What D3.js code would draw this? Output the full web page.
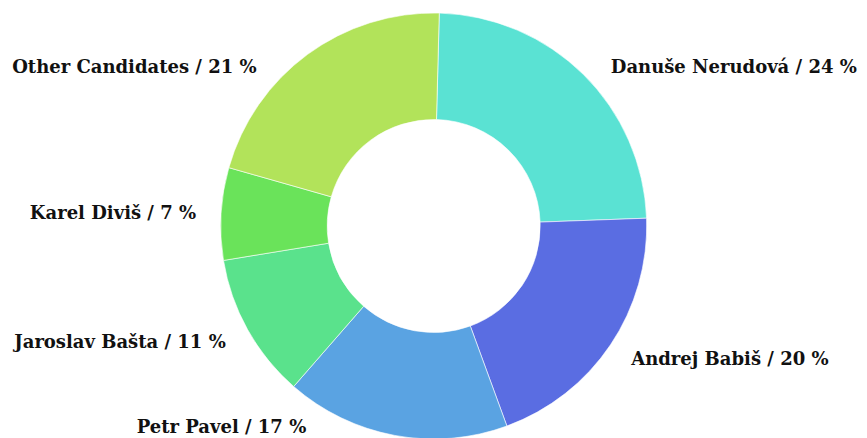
<!DOCTYPE html>
<html>
<head>
<meta charset="utf-8">
<script src="https://cdn.jsdelivr.net/npm/d3@7"></script>
<style>
  html, body { margin: 0; padding: 0; background: #fff; }
  svg { display: block; }
</style>
</head>
<body>
<svg id="chart"></svg>
<script>
// data
const candidates = ['Danuše Nerudová', 'Andrej Babiš', 'Petr Pavel', 'Jaroslav Bašta', 'Karel Diviš', 'Other Candidates']
const shares = [24, 20, 17, 11, 7, 21]
const colors = ['#5ae2d3', '#5a6de2', '#5aa3e2', '#5ae28c', '#6ae35a', '#b2e35a']

const width = 867
const height = 438
const cx = 433.7
const cy = 226
const outerRadius = 213
const innerRadius = 106.5
const startAngle = 1.5 * Math.PI / 180

// labels sit on a ring outside the donut, kept inside the artboard
const labelRadius = outerRadius + 25
const labelTop = cy - 159
const labelBottom = cy + 201

const data = candidates.map((name, i) => ({ name, value: shares[i], color: colors[i] }))

const svg = d3.select('#chart').attr('width', width).attr('height', height)

const pie = d3
  .pie()
  .sort(null)
  .value((d) => d.value)
  .startAngle(startAngle)
  .endAngle(startAngle + 2 * Math.PI)

const arc = d3.arc().innerRadius(innerRadius).outerRadius(outerRadius)

const arcs = pie(data)

const g = svg.append('g').attr('transform', `translate(${cx},${cy})`)

g.selectAll('path')
  .data(arcs)
  .join('path')
  .attr('d', arc)
  .attr('fill', (d) => d.data.color)
  .attr('stroke', '#fff')
  .attr('stroke-width', 0.6)

// label positions: y from the mid angle, clamped, x on the label ring
function labelPos(d) {
  const mid = (d.startAngle + d.endAngle) / 2
  let y = -labelRadius * Math.cos(mid)
  y = Math.max(labelTop - cy, Math.min(labelBottom - cy, y))
  const dx = Math.sqrt(Math.max(0, labelRadius * labelRadius - y * y))
  const right = Math.sin(mid) >= 0
  return { x: right ? dx : -dx, y, anchor: right ? 'start' : 'end' }
}

g.selectAll('text')
  .data(arcs)
  .join('text')
  .each(function (d) {
    const p = labelPos(d)
    d3.select(this)
      .attr('x', p.x)
      .attr('y', p.y)
      .attr('dy', '0.36em')
      .attr('text-anchor', p.anchor)
  })
  .attr('font-family', '"DejaVu Serif", serif')
  .attr('font-weight', 'bold')
  .attr('font-size', '18px')
  .attr('fill', '#111')
  .text((d) => `${d.data.name} / ${d.data.value} %`)
</script>
</body>
</html>
